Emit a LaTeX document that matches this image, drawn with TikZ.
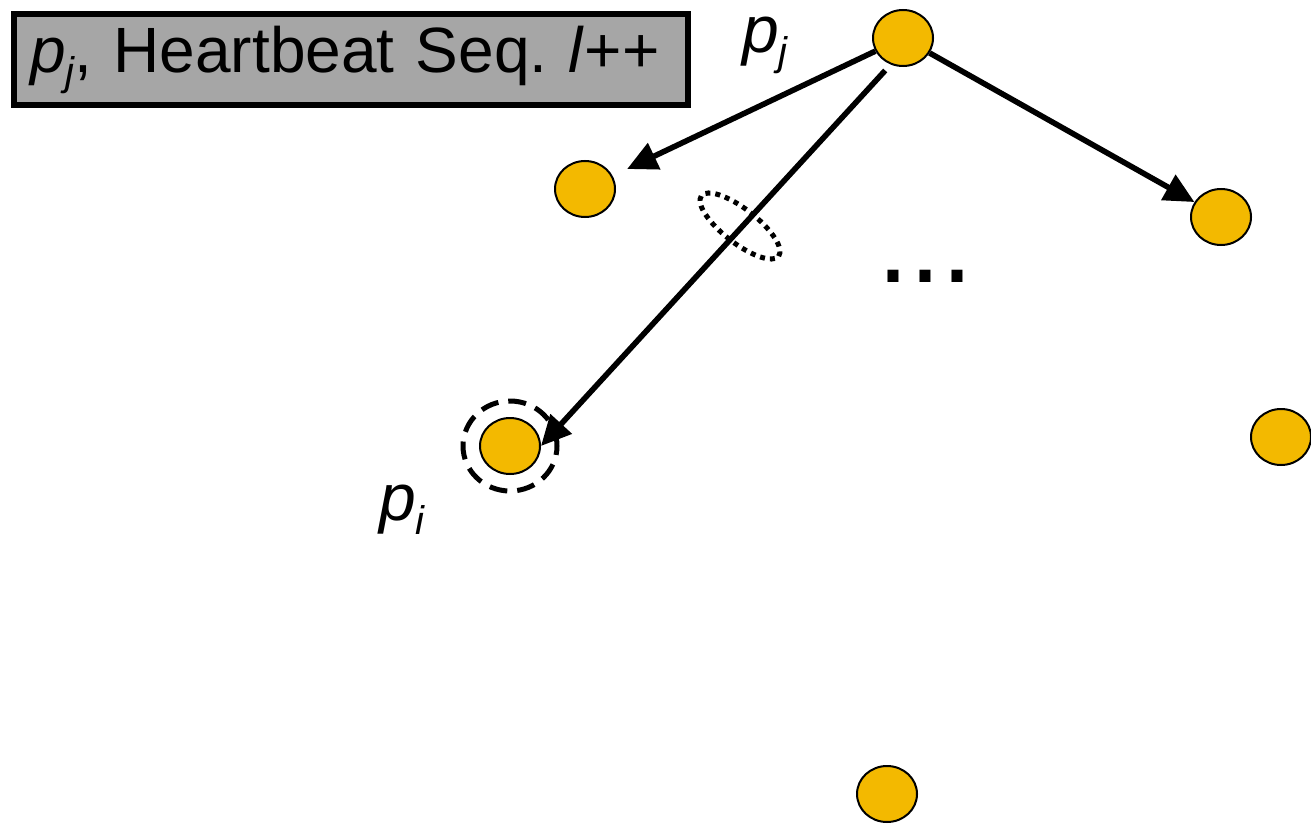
\documentclass[tikz,border=0pt]{standalone}
\usepackage{fontspec}
\setmainfont{Liberation Sans}
\usetikzlibrary{arrows.meta,shapes.geometric}
\definecolor{NodeClr}{RGB}{243,185,0}
\definecolor{BoxClr}{RGB}{166,166,166}
\newcommand\sbs[1]{\raisebox{-0.2em}{\fontsize{20}{24}\selectfont\itshape #1}}

\begin{document}
\begin{tikzpicture}[x=0.5pt,y=-0.5pt,
  proc/.style={ellipse,draw=black,line width=1pt,fill=NodeClr,
    minimum width=30pt,minimum height=28pt,inner sep=0pt},
  msg/.style={line width=2.8pt,-{Triangle[length=15pt,width=14pt]}},
  lbl/.style={font=\fontsize{33}{40}\selectfont,inner sep=0pt}]
\useasboundingbox (0,0) rectangle (1311,824);

\node[draw,line width=3pt,fill=BoxClr,anchor=west,text width=321pt,
  inner xsep=8pt,minimum height=45.5pt,align=left,
  font=\fontsize{32}{38}\selectfont] (Head) at (11,60)
  {\mbox{\textit{p}\sbs{j}, Heartbeat Seq.\ \textit{l}++}};

\node[proc] (Pj) at (903,38) {};
\node[proc] (A) at (585,189) {};
\node[proc] (B) at (1221,217) {};
\node[proc] (Pi) at (510,446) {};
\node[proc] (C) at (1281,437) {};
\node[proc] (D) at (887,794) {};

\node[lbl] (Lj) at (765,45) {\textit{p}\sbs{j}};
\node[lbl] (Li) at (402,510) {\textit{p}\sbs{i}};
\node[font=\fontsize{57.5}{60}\selectfont,inner sep=0pt,anchor=base] (Dots) at (925,282) {...};

% heartbeat messages
\draw[msg,shorten >=8pt] (Pj) -- (A);
\draw[msg,shorten <=4pt] (Pj.245) -- (Pi.east);
\draw[msg] (Pj) -- (B);

\draw[line width=2.5pt,dash pattern=on 9pt off 5pt] (Pi) ellipse [x radius=23.5pt,y radius=22.5pt];
\draw[line width=2.5pt,dash pattern=on 2.5pt off 2.5pt,rotate around={-38:(740,226)}]
  (740,226) ellipse [x radius=24.5pt,y radius=8.5pt];

\end{tikzpicture}
\end{document}
